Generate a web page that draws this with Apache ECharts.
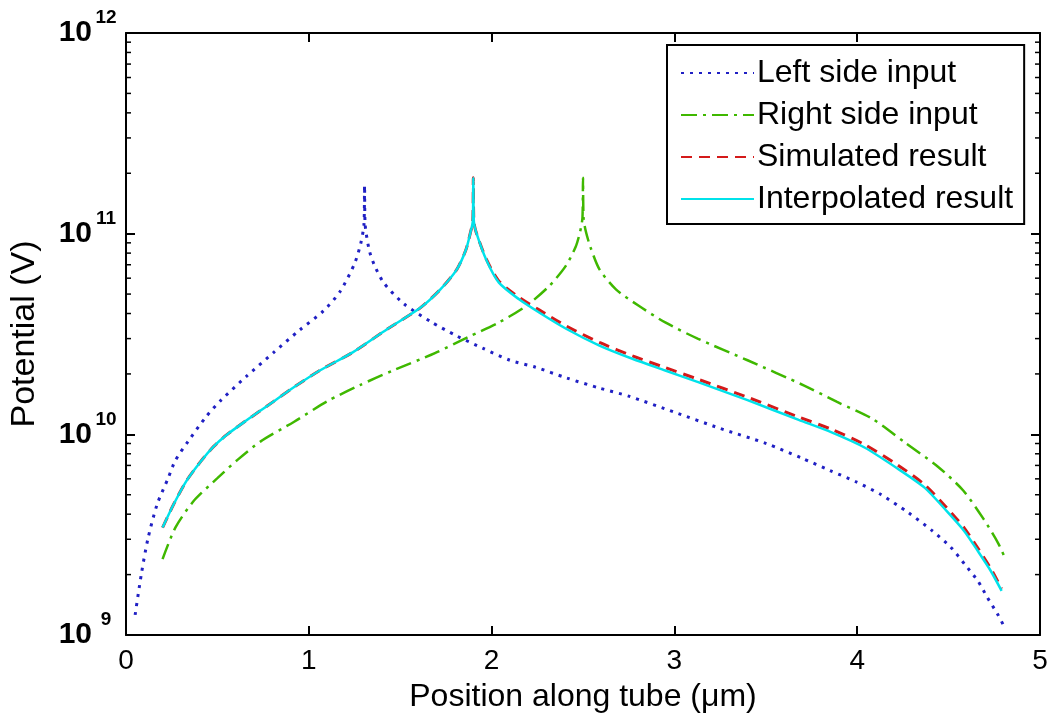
<!DOCTYPE html>
<html>
<head>
<meta charset="utf-8">
<script src="https://cdn.jsdelivr.net/npm/echarts@6/dist/echarts.min.js"></script>
<style>
  html, body { margin: 0; padding: 0; background: #fff; }
  #chart { width: 1053px; height: 718px; }
</style>
</head>
<body>
<div id="chart"></div>
<script>
// Position along the tube (µm) and potential (V) for each curve
const leftPos = [0.05, 0.085, 0.12, 0.17, 0.23, 0.27, 0.34, 0.44, 0.52, 0.66, 0.81, 0.95, 1.08, 1.17, 1.25, 1.285, 1.302, 1.305, 1.308, 1.33, 1.36, 1.41, 1.52, 1.67, 1.81, 1.95, 2.10, 2.24, 2.41, 2.59, 2.75, 3.0, 3.25, 3.5, 3.70, 3.85, 3.99, 4.13, 4.28, 4.41, 4.51, 4.59, 4.66, 4.71, 4.77, 4.80];
const leftVal = [1.26e9, 2.04e9, 3.02e9, 4.47e9, 6.03e9, 7.41e9, 9.23e9, 1.23e10, 1.48e10, 1.95e10, 2.57e10, 3.31e10, 4.12e10, 5.13e10, 7.08e10, 9.0e10, 1.12e11, 1.74e11, 1.12e11, 8.32e10, 6.92e10, 5.69e10, 4.47e10, 3.63e10, 3.09e10, 2.69e10, 2.34e10, 2.16e10, 1.91e10, 1.70e10, 1.55e10, 1.29e10, 1.07e10, 9.02e9, 7.59e9, 6.61e9, 5.82e9, 5.01e9, 4.07e9, 3.31e9, 2.75e9, 2.24e9, 1.86e9, 1.55e9, 1.26e9, 1.12e9];

const rightPos = [0.20, 0.27, 0.37, 0.50, 0.61, 0.735, 0.92, 1.10, 1.28, 1.46, 1.69, 1.87, 2.04, 2.19, 2.315, 2.405, 2.46, 2.485, 2.497, 2.50, 2.503, 2.515, 2.54, 2.59, 2.68, 2.805, 2.95, 3.13, 3.40, 3.71, 3.89, 4.08, 4.26, 4.44, 4.58, 4.69, 4.77, 4.81];
const rightVal = [2.39e9, 3.43e9, 4.65e9, 6.05e9, 7.46e9, 9.20e9, 1.156e10, 1.46e10, 1.76e10, 2.08e10, 2.54e10, 3.05e10, 3.61e10, 4.37e10, 5.48e10, 6.89e10, 8.6e10, 1.03e11, 1.2e11, 1.90e11, 1.2e11, 1.03e11, 8.6e10, 6.64e10, 5.28e10, 4.37e10, 3.61e10, 2.99e10, 2.34e10, 1.75e10, 1.45e10, 1.20e10, 9.12e9, 6.92e9, 5.25e9, 3.8e9, 2.88e9, 2.4e9];

const simPos = [0.20, 0.26, 0.33, 0.41, 0.48, 0.55, 0.66, 0.77, 0.92, 1.06, 1.24, 1.43, 1.61, 1.72, 1.81, 1.86, 1.885, 1.897, 1.90, 1.903, 1.915, 1.97, 2.04, 2.15, 2.26, 2.41, 2.59, 2.77, 2.95, 3.13, 3.40, 3.68, 3.86, 4.04, 4.22, 4.37, 4.49, 4.585, 4.66, 4.73, 4.79];
const simVal = [3.43e9, 4.47e9, 5.85e9, 7.35e9, 8.71e9, 9.93e9, 1.175e10, 1.38e10, 1.72e10, 2.08e10, 2.56e10, 3.35e10, 4.27e10, 5.28e10, 6.64e10, 8.34e10, 1.02e11, 1.15e11, 1.90e11, 1.15e11, 1.02e11, 7.50e10, 5.80e10, 4.82e10, 4.17e10, 3.46e10, 2.87e10, 2.46e10, 2.15e10, 1.88e10, 1.53e10, 1.22e10, 1.058e10, 8.9e9, 7.05e9, 5.60e9, 4.30e9, 3.42e9, 2.71e9, 2.15e9, 1.70e9];

const interpPos = [0.20, 0.26, 0.33, 0.41, 0.48, 0.55, 0.66, 0.77, 0.92, 1.06, 1.24, 1.43, 1.61, 1.72, 1.81, 1.86, 1.885, 1.897, 1.90, 1.903, 1.915, 1.97, 2.04, 2.15, 2.26, 2.41, 2.59, 2.77, 2.95, 3.13, 3.40, 3.68, 3.86, 4.04, 4.22, 4.37, 4.49, 4.585, 4.66, 4.73, 4.79];
const interpVal = [3.43e9, 4.47e9, 5.85e9, 7.35e9, 8.71e9, 9.93e9, 1.175e10, 1.38e10, 1.72e10, 2.08e10, 2.56e10, 3.35e10, 4.27e10, 5.28e10, 6.64e10, 8.34e10, 1.02e11, 1.15e11, 1.90e11, 1.15e11, 1.02e11, 7.43e10, 5.70e10, 4.71e10, 4.05e10, 3.35e10, 2.77e10, 2.38e10, 2.08e10, 1.82e10, 1.48e10, 1.18e10, 1.023e10, 8.6e9, 6.76e9, 5.41e9, 4.14e9, 3.30e9, 2.62e9, 2.09e9, 1.66e9];

const seriesNames = ['Left side input', 'Right side input', 'Simulated result', 'Interpolated result'];

// Axis ranges and log minor tick values
const X_MIN = 0, X_MAX = 5, X_STEP = 1;
const Y_MIN = 1e9, Y_MAX = 1e12;
const minorTicks = [];
for (let d = Y_MIN; d < Y_MAX; d *= 10) {
  for (let m = 2; m <= 9; m++) minorTicks.push(m * d);
}

const FONT = 'Liberation Sans, Arial, Helvetica, sans-serif';
const SMOOTH = 0.25;
const pairs = (xs, ys) => xs.map((x, i) => [x, ys[i]]);

const chart = echarts.init(document.getElementById('chart'), null, { renderer: 'canvas' });

const axisLineStyle = { color: '#000', width: 2 };

const option = {
  animation: false,
  backgroundColor: '#fff',
  grid: { left: 126, right: 13, top: 33, bottom: 81 },
  legend: {
    data: seriesNames,
    orient: 'vertical',
    left: 667,
    top: 45,
    padding: [12, 11, 9, 13],
    itemGap: 10,
    itemWidth: 73,
    itemHeight: 14,
    backgroundColor: '#fff',
    borderColor: '#000',
    borderWidth: 2,
    borderRadius: 0,
    itemStyle: { opacity: 0 },
    textStyle: { fontFamily: FONT, fontSize: 32, color: '#000', padding: [0, 0, 0, -2] }
  },
  xAxis: [
    {
      type: 'value', min: X_MIN, max: X_MAX, interval: X_STEP, position: 'bottom',
      name: 'Position along tube (\u03bcm)', nameLocation: 'middle', nameGap: 46,
      nameTextStyle: { fontFamily: FONT, fontSize: 32, color: '#000' },
      axisLine: { show: true, onZero: false, lineStyle: axisLineStyle },
      axisTick: { show: true, inside: true, length: 9, lineStyle: { color: '#000', width: 2 } },
      axisLabel: { fontFamily: FONT, fontSize: 28, color: '#000', margin: 12 },
      splitLine: { show: false }
    },
    {
      type: 'value', min: X_MIN, max: X_MAX, interval: X_STEP, position: 'top',
      axisLine: { show: true, onZero: false, lineStyle: axisLineStyle },
      axisTick: { show: true, inside: true, length: 9, lineStyle: { color: '#000', width: 2 } },
      axisLabel: { show: false },
      splitLine: { show: false }
    }
  ],
  yAxis: [
    {
      type: 'log', logBase: 10, min: Y_MIN, max: Y_MAX, position: 'left',
      name: 'Potential (V)', nameLocation: 'middle', nameGap: 84, nameRotate: 90,
      nameTextStyle: { fontFamily: FONT, fontSize: 34, color: '#000', padding: [0, 0, 0, 0] },
      axisLine: { show: true, onZero: false, lineStyle: axisLineStyle },
      axisTick: { show: true, inside: true, length: 9, lineStyle: { color: '#000', width: 2 } },
      axisLabel: {
        margin: 8,
        formatter: v => '{b|10}{s|' + Math.round(Math.log10(v)) + '}',
        rich: {
          b: { fontFamily: FONT, fontSize: 30, fontWeight: 'bold', color: '#000' },
          s: { fontFamily: FONT, fontSize: 19, fontWeight: 'bold', color: '#000', width: 24, align: 'left', padding: [0, 0, 30, 2] }
        }
      },
      splitLine: { show: false }
    },
    {
      type: 'log', logBase: 10, min: Y_MIN, max: Y_MAX, position: 'right',
      axisLine: { show: true, onZero: false, lineStyle: axisLineStyle },
      axisTick: { show: true, inside: true, length: 9, lineStyle: { color: '#000', width: 2 } },
      axisLabel: { show: false },
      splitLine: { show: false }
    }
  ],
  series: [
    {
      name: seriesNames[0], type: 'line', data: pairs(leftPos, leftVal),
      symbol: 'none', showSymbol: false, smooth: SMOOTH, z: 3,
      lineStyle: { color: '#2020c4', width: 3, type: [3, 6] },
      itemStyle: { color: '#2020c4' }
    },
    {
      name: seriesNames[1], type: 'line', data: pairs(rightPos, rightVal),
      symbol: 'none', showSymbol: false, smooth: SMOOTH, z: 4,
      lineStyle: { color: '#3fb800', width: 2.5, type: [16, 6, 3, 6] },
      itemStyle: { color: '#3fb800' }
    },
    {
      name: seriesNames[2], type: 'line', data: pairs(simPos, simVal),
      symbol: 'none', showSymbol: false, smooth: SMOOTH, z: 5,
      lineStyle: { color: '#d41a1a', width: 3, type: [11, 7] },
      itemStyle: { color: '#d41a1a' }
    },
    {
      name: seriesNames[3], type: 'line', data: pairs(interpPos, interpVal),
      symbol: 'none', showSymbol: false, smooth: SMOOTH, z: 6,
      lineStyle: { color: '#00e2ea', width: 2.5, type: 'solid' },
      itemStyle: { color: '#00e2ea' }
    },
    {
      // log minor ticks on the left and right frame edges
      type: 'custom', silent: true, z: 10,
      data: minorTicks.map(v => [X_MIN, v]),
      encode: { x: 0, y: 1 },
      renderItem: (params, api) => {
        const v = api.value(1);
        const pl = api.coord([X_MIN, v]);
        const pr = api.coord([X_MAX, v]);
        const st = { stroke: '#000', lineWidth: 1.5 };
        return {
          type: 'group',
          children: [
            { type: 'line', shape: { x1: pl[0], y1: pl[1], x2: pl[0] + 5, y2: pl[1] }, style: st },
            { type: 'line', shape: { x1: pr[0], y1: pr[1], x2: pr[0] - 5, y2: pr[1] }, style: st }
          ]
        };
      }
    }
  ]
};

chart.setOption(option);
</script>
</body>
</html>
